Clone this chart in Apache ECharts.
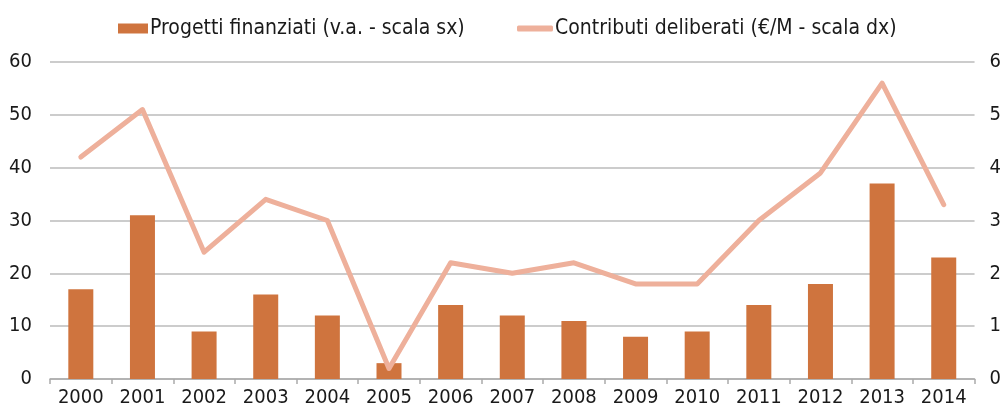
<!DOCTYPE html>
<html><head><meta charset="utf-8">
<script src="https://cdn.jsdelivr.net/npm/echarts@6/dist/echarts.min.js"></script>
<style>html,body{margin:0;padding:0;background:#fff}#c{width:1004px;height:416px}</style>
</head><body><div id="c"></div>
<script>
const categories = ['2000','2001','2002','2003','2004','2005','2006','2007','2008','2009','2010','2011','2012','2013','2014'];
const progetti = [17,31,9,16,12,3,14,12,11,8,9,14,18,37,23];
const contributi = [4.2,5.1,2.4,3.4,3.0,0.2,2.2,2.0,2.2,1.8,1.8,3.0,3.9,5.6,3.3];
const leftTicks = [0,10,20,30,40,50,60];
const rightTicks = [0,1,2,3,4,5,6];
const NAME_BAR = 'Progetti finanziati (v.a. - scala sx)';
const NAME_LINE = 'Contributi deliberati (€/M - scala dx)';
const FONT = '"Liberation Sans Narrow","DejaVu Sans Condensed",sans-serif';
const chart = echarts.init(document.getElementById('c'), null, {renderer:'canvas'});
const legTxt = {fontFamily:FONT, fontSize:21, color:'#1a1a1a', padding:[0,0,0,-3]};
chart.setOption({
  animation:false,
  legend:[
    {left:113, top:13, itemWidth:30, itemHeight:10, icon:'rect',
     textStyle:legTxt, data:[NAME_BAR]},
    {left:512, top:13, itemWidth:36, itemHeight:6, icon:'roundRect',
     itemStyle:{color:'#eeb09b'}, textStyle:legTxt, data:[NAME_LINE]}
  ],
  grid:{left:50, right:29, top:62, bottom:37},
  xAxis:{
    type:'category', data:categories, boundaryGap:true,
    axisLine:{lineStyle:{color:'#aaaaaa', width:1.5}},
    axisTick:{show:true, length:5, lineStyle:{color:'#aaaaaa', width:1.5}},
    axisLabel:{fontFamily:FONT, fontSize:20, color:'#1a1a1a', margin:9}
  },
  yAxis:[
    {type:'value', min:leftTicks[0], max:leftTicks[leftTicks.length-1], interval:10,
     axisLine:{show:false}, axisTick:{show:false},
     splitLine:{lineStyle:{color:'#bbbbbb', width:1.5}},
     axisLabel:{fontFamily:FONT, fontSize:20, color:'#1a1a1a', margin:18}},
    {type:'value', min:rightTicks[0], max:rightTicks[rightTicks.length-1], interval:1,
     axisLine:{show:false}, axisTick:{show:false}, splitLine:{show:false},
     axisLabel:{fontFamily:FONT, fontSize:20, color:'#1a1a1a', margin:15}}
  ],
  series:[
    {name:NAME_BAR, type:'bar', data:progetti, yAxisIndex:0,
     barWidth:25, itemStyle:{color:'#cf743e'}},
    {name:NAME_LINE, type:'line', data:contributi, yAxisIndex:1,
     symbol:'none', lineStyle:{color:'#eeb09b', width:5, cap:'round', join:'round'},
     itemStyle:{color:'#eeb09b'}}
  ]
});
</script></body></html>
